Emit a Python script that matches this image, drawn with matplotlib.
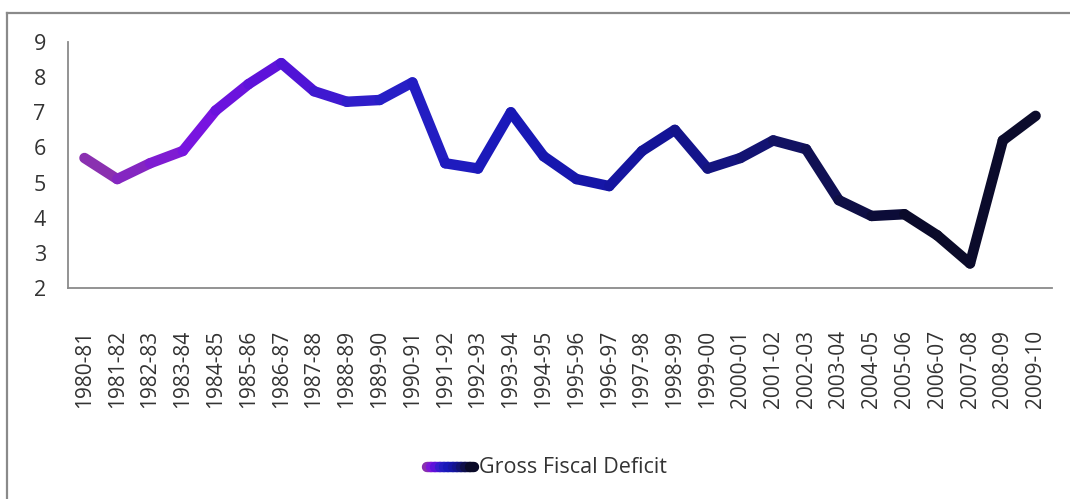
import numpy as np
import matplotlib
matplotlib.use("Agg")
import matplotlib.pyplot as plt
from matplotlib.collections import LineCollection
from matplotlib.colors import LinearSegmentedColormap
from matplotlib.lines import Line2D

# data
years = ["1980-81", "1981-82", "1982-83", "1983-84", "1984-85", "1985-86",
         "1986-87", "1987-88", "1988-89", "1989-90", "1990-91", "1991-92",
         "1992-93", "1993-94", "1994-95", "1995-96", "1996-97", "1997-98",
         "1998-99", "1999-00", "2000-01", "2001-02", "2002-03", "2003-04",
         "2004-05", "2005-06", "2006-07", "2007-08", "2008-09", "2009-10"]
deficit = [5.7, 5.1, 5.55, 5.9, 7.05, 7.8, 8.4, 7.6, 7.3, 7.35,
           7.85, 5.55, 5.4, 7.0, 5.75, 5.1, 4.9, 5.9, 6.5, 5.4,
           5.7, 6.2, 5.95, 4.5, 4.05, 4.1, 3.5, 2.7, 6.2, 6.9]

plt.rcParams["font.family"] = ["Open Sans", "DejaVu Sans"]

cmap = LinearSegmentedColormap.from_list(
    "gfd", [(0.0, "#8a30b0"), (0.1, "#7a14e0"), (0.2, "#5512d8"),
            (0.3, "#2a20c8"), (0.45, "#1818b8"), (0.6, "#14149a"),
            (0.7, "#141478"), (0.8, "#10104e"), (0.9, "#0a0a28"),
            (1.0, "#0c0c2c")])

fig = plt.figure(figsize=(10.7, 4.99), dpi=100)
ax = fig.add_axes([0.0636, 0.4228, 0.9196, 0.4930])

x = np.arange(len(years))
y = np.array(deficit)
pts = np.column_stack([x, y]).reshape(-1, 1, 2)
segs = np.concatenate([pts[:-1], pts[1:]], axis=1)
lc = LineCollection(segs, colors=cmap(np.linspace(0, 1, len(segs))),
                    linewidths=7.5, capstyle="round", joinstyle="round")
ax.add_collection(lc)

ax.set_xlim(-0.5, len(years) - 0.5)
ax.set_ylim(2, 9)
ax.set_yticks(range(2, 10))
ax.set_xticks(x)
ax.set_xticklabels(years, rotation=90)
ax.tick_params(axis="x", length=0, pad=30, labelsize=15, labelcolor="#333333")
ax.tick_params(axis="y", length=0, pad=16, labelsize=15.5, labelcolor="#333333")
for s in ["top", "right"]:
    ax.spines[s].set_visible(False)
for s in ["left", "bottom"]:
    ax.spines[s].set_color("#8a8a8a")
    ax.spines[s].set_linewidth(1.3)

# legend drawn by hand with the same gradient
lx = np.linspace(0.399, 0.443, 12)
lpts = np.column_stack([lx, np.full_like(lx, 0.064)]).reshape(-1, 1, 2)
lsegs = np.concatenate([lpts[:-1], lpts[1:]], axis=1)
leg = LineCollection(lsegs, colors=cmap(np.linspace(0, 0.9, len(lsegs))),
                     linewidths=7.5, capstyle="round", transform=fig.transFigure)
fig.add_artist(leg)
fig.text(0.448, 0.064, "Gross Fiscal Deficit", fontsize=15.5, color="#333333",
         va="center", ha="left")

# outer frame (left and top edges)
fig.add_artist(Line2D([0.0065, 0.0065], [0.0, 0.974], color="#8a8a8a",
                      lw=1.6, transform=fig.transFigure))
fig.add_artist(Line2D([0.0065, 1.0], [0.974, 0.974], color="#8a8a8a",
                      lw=1.6, transform=fig.transFigure))

fig.savefig("out.png", dpi=100)
plt.close(fig)
